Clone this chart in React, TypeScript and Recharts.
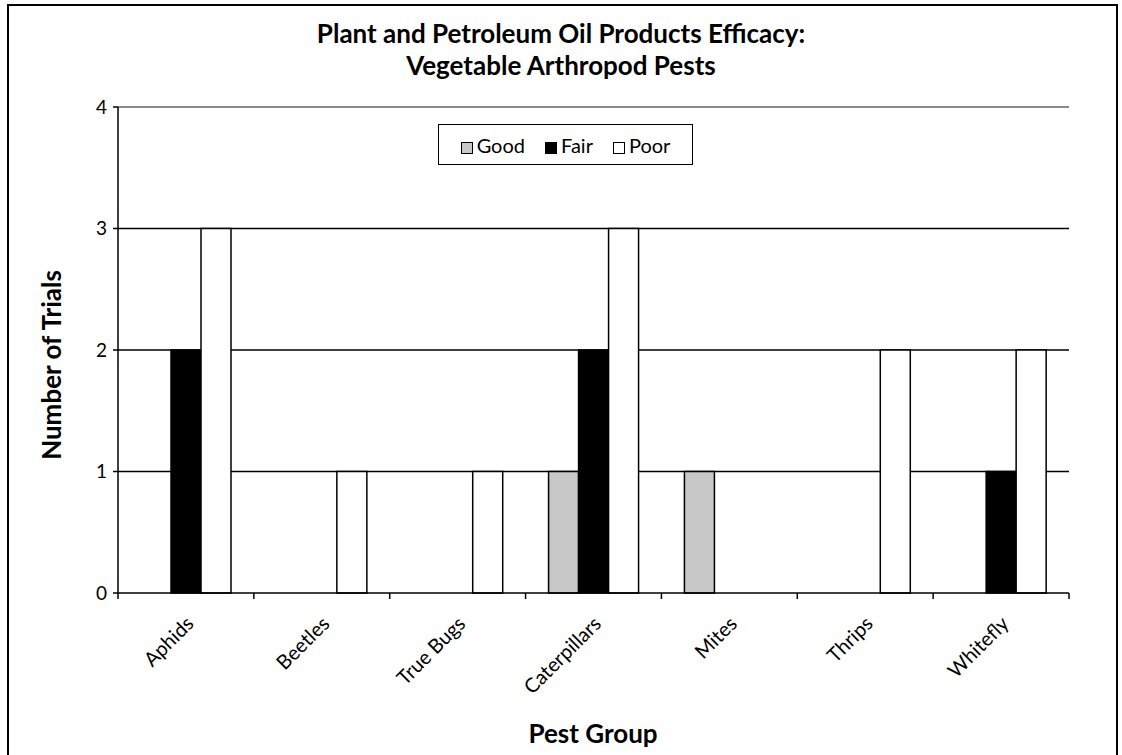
import React from "react";
import {
  BarChart,
  Bar,
  XAxis,
  YAxis,
  CartesianGrid,
  ReferenceLine,
} from "recharts";

const pestGroups = ["Aphids", "Beetles", "True Bugs", "Caterpillars", "Mites", "Thrips", "Whitefly"];
const goodTrials = [0, 0, 0, 1, 1, 0, 0];
const fairTrials = [2, 0, 0, 2, 0, 0, 1];
const poorTrials = [3, 1, 1, 3, 0, 2, 2];
const yTicks = [0, 1, 2, 3, 4];

const FONT = "Lato, 'Open Sans', sans-serif";

const data = pestGroups.map((g, i) => ({
  group: g,
  Good: goodTrials[i],
  Fair: fairTrials[i],
  Poor: poorTrials[i],
}));

// category labels at band centres, tick marks at band edges
const CategoryTick = (props: any) => {
  const { x, y, payload, index } = props;
  const half = payload.offset || 0;
  return (
    <g>
      <line x1={x - half} x2={x - half} y1={y} y2={y + 6} stroke="#000" strokeWidth={1.5} />
      {index === pestGroups.length - 1 && (
        <line x1={x + half} x2={x + half} y1={y} y2={y + 6} stroke="#000" strokeWidth={1.5} />
      )}
      <g transform={`translate(${x + 9},${y + 32})`}>
        <text
          x={0}
          y={0}
          textAnchor="end"
          transform="rotate(-45)"
          fontFamily={FONT}
          fontSize={20}
          fill="#000"
        >
          {payload.value}
        </text>
      </g>
    </g>
  );
};

const Swatch = ({ fill }: { fill: string }) => (
  <span
    style={{
      display: "inline-block",
      width: 12,
      height: 12,
      background: fill,
      border: "1px solid #000",
      boxSizing: "border-box",
      marginRight: 4,
      verticalAlign: "-1px",
    }}
  />
);

export default function App() {
  return (
    <div style={{ position: "absolute", left: 0, top: 0, width: 1122, height: 755, background: "#fff" }}>
      <div
        style={{
          position: "absolute",
          left: 7,
          top: 4,
          width: 1111,
          height: 770,
          border: "2px solid #000",
          boxSizing: "border-box",
        }}
      />
      <div
        style={{
          position: "absolute",
          left: 0,
          top: 17,
          width: 1122,
          textAlign: "center",
          fontFamily: FONT,
          fontWeight: 700,
          fontSize: 26,
          lineHeight: "32px",
        }}
      >
        Plant and Petroleum Oil Products Efficacy:
        <br />
        Vegetable Arthropod Pests
      </div>
      <div
        style={{
          position: "absolute",
          left: 51,
          top: 365,
          transform: "translate(-50%, -50%) rotate(-90deg)",
          whiteSpace: "nowrap",
          fontFamily: FONT,
          fontWeight: 700,
          fontSize: 26,
        }}
      >
        Number of Trials
      </div>
      <div
        style={{
          position: "absolute",
          left: 593,
          top: 733,
          transform: "translate(-50%, -50%)",
          whiteSpace: "nowrap",
          fontFamily: FONT,
          fontWeight: 700,
          fontSize: 26,
        }}
      >
        Pest Group
      </div>
      <div style={{ position: "absolute", left: 0, top: 0 }}>
        <BarChart
          width={1122}
          height={755}
          data={data}
          margin={{ top: 107, right: 53, left: 58, bottom: 62 }}
          barSize={30}
          barGap={0}
        >
          <CartesianGrid
            vertical={false}
            horizontalValues={[1, 2, 3]}
            stroke="#000"
            strokeWidth={1.5}
          />
          <XAxis
            dataKey="group"
            height={100}
            interval={0}
            tickLine={false}
            tickSize={0}
            tickMargin={0}
            axisLine={{ stroke: "#000", strokeWidth: 1.5 }}
            tick={<CategoryTick />}
          />
          <YAxis
            width={60}
            domain={[0, 4]}
            ticks={yTicks}
            interval={0}
            axisLine={{ stroke: "#000", strokeWidth: 1.5 }}
            tickLine={{ stroke: "#000", strokeWidth: 1.5 }}
            tickSize={5}
            tickMargin={6}
            tick={{ fill: "#000", fontSize: 19, fontFamily: FONT }}
          />
          <YAxis
            yAxisId="frame"
            orientation="right"
            width={0}
            domain={[0, 4]}
            tick={false}
            tickLine={false}
            axisLine={{ stroke: "#a8a8a8", strokeWidth: 2 }}
          />
          <ReferenceLine y={4} stroke="#8c8c8c" strokeWidth={2} />
          <Bar dataKey="Good" fill="#c8c8c8" stroke="#000" strokeWidth={1.5} isAnimationActive={false} />
          <Bar dataKey="Fair" fill="#000" stroke="#000" strokeWidth={1.5} isAnimationActive={false} />
          <Bar dataKey="Poor" fill="#fff" stroke="#000" strokeWidth={1.5} isAnimationActive={false} />
        </BarChart>
      </div>
      <div
        style={{
          position: "absolute",
          left: 438,
          top: 124,
          width: 255,
          height: 41,
          border: "1.5px solid #000",
          boxSizing: "border-box",
          background: "#fff",
          display: "flex",
          alignItems: "center",
          justifyContent: "center",
          gap: 20,
          fontFamily: FONT,
          fontSize: 20,
        }}
      >
        <span><Swatch fill="#c8c8c8" />Good</span>
        <span><Swatch fill="#000" />Fair</span>
        <span><Swatch fill="#fff" />Poor</span>
      </div>
    </div>
  );
}
